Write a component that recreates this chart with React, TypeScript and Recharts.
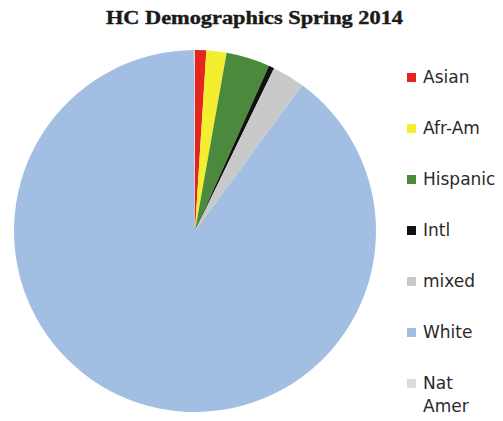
import { PieChart, Pie, Cell, Legend } from 'recharts';

const groups = ['Asian', 'Afr-Am', 'Hispanic', 'Intl', 'mixed', 'White', 'Nat Amer'];
const shares = [1.0, 1.8, 3.9, 0.5, 2.9, 89.8, 0.1];
const colors = ['#e5261e', '#f3ef2e', '#4b8a3d', '#111111', '#c9c9c9', '#a2bfe3', '#dcdcdc'];

const data = groups.map((name, i) => ({ name, value: shares[i], color: colors[i] }));

// keep the legend in the original (data) order instead of alphabetical
const renderLegend = ({ payload }: any) => {
  const items = [...(payload || [])].sort(
    (a: any, b: any) => groups.indexOf(a.value) - groups.indexOf(b.value)
  );
  return (
    <div style={{ fontFamily: '"DejaVu Sans", sans-serif', fontSize: 17, color: '#2a2a2a' }}>
      {items.map((entry: any, index: number) => (
        <div key={`item-${index}`} style={{ display: 'flex', alignItems: 'flex-start', height: 51 }}>
          <span
            style={{
              display: 'inline-block',
              width: 9,
              height: 9,
              marginTop: 7,
              marginRight: 7,
              background: entry.color,
            }}
          />
          <span style={{ lineHeight: '23px', maxWidth: 76 }}>{entry.value}</span>
        </div>
      ))}
    </div>
  );
};

export default function App() {
  return (
    <div style={{ position: 'absolute', left: 0, top: 0, width: 503, height: 421, background: '#fff' }}>
      <svg width={503} height={40} style={{ position: 'absolute', left: 0, top: 0 }}>
        <text
          x={106}
          y={24}
          textLength={297}
          lengthAdjust="spacingAndGlyphs"
          fontFamily='"Liberation Serif", serif'
          fontWeight="bold"
          fontSize={19}
          fill="#1a1a1a"
          stroke="#1a1a1a"
          strokeWidth={0.4}
        >
          HC Demographics Spring 2014
        </text>
      </svg>
      <PieChart
        width={503}
        height={421}
        margin={{ top: 0, right: 0, bottom: 0, left: 0 }}
        style={{ position: 'absolute', left: 0, top: 0 }}
      >
        <Pie
          data={data}
          dataKey="value"
          nameKey="name"
          cx={195}
          cy={231}
          outerRadius={181}
          startAngle={90}
          endAngle={-270}
          stroke="none"
          isAnimationActive={false}
        >
          {data.map((entry, index) => (
            <Cell key={`cell-${index}`} fill={entry.color} />
          ))}
        </Pie>
        <Legend
          layout="vertical"
          align="right"
          verticalAlign="top"
          content={renderLegend}
          wrapperStyle={{ left: 407, top: 66, width: 96 }}
        />
      </PieChart>
    </div>
  );
}
